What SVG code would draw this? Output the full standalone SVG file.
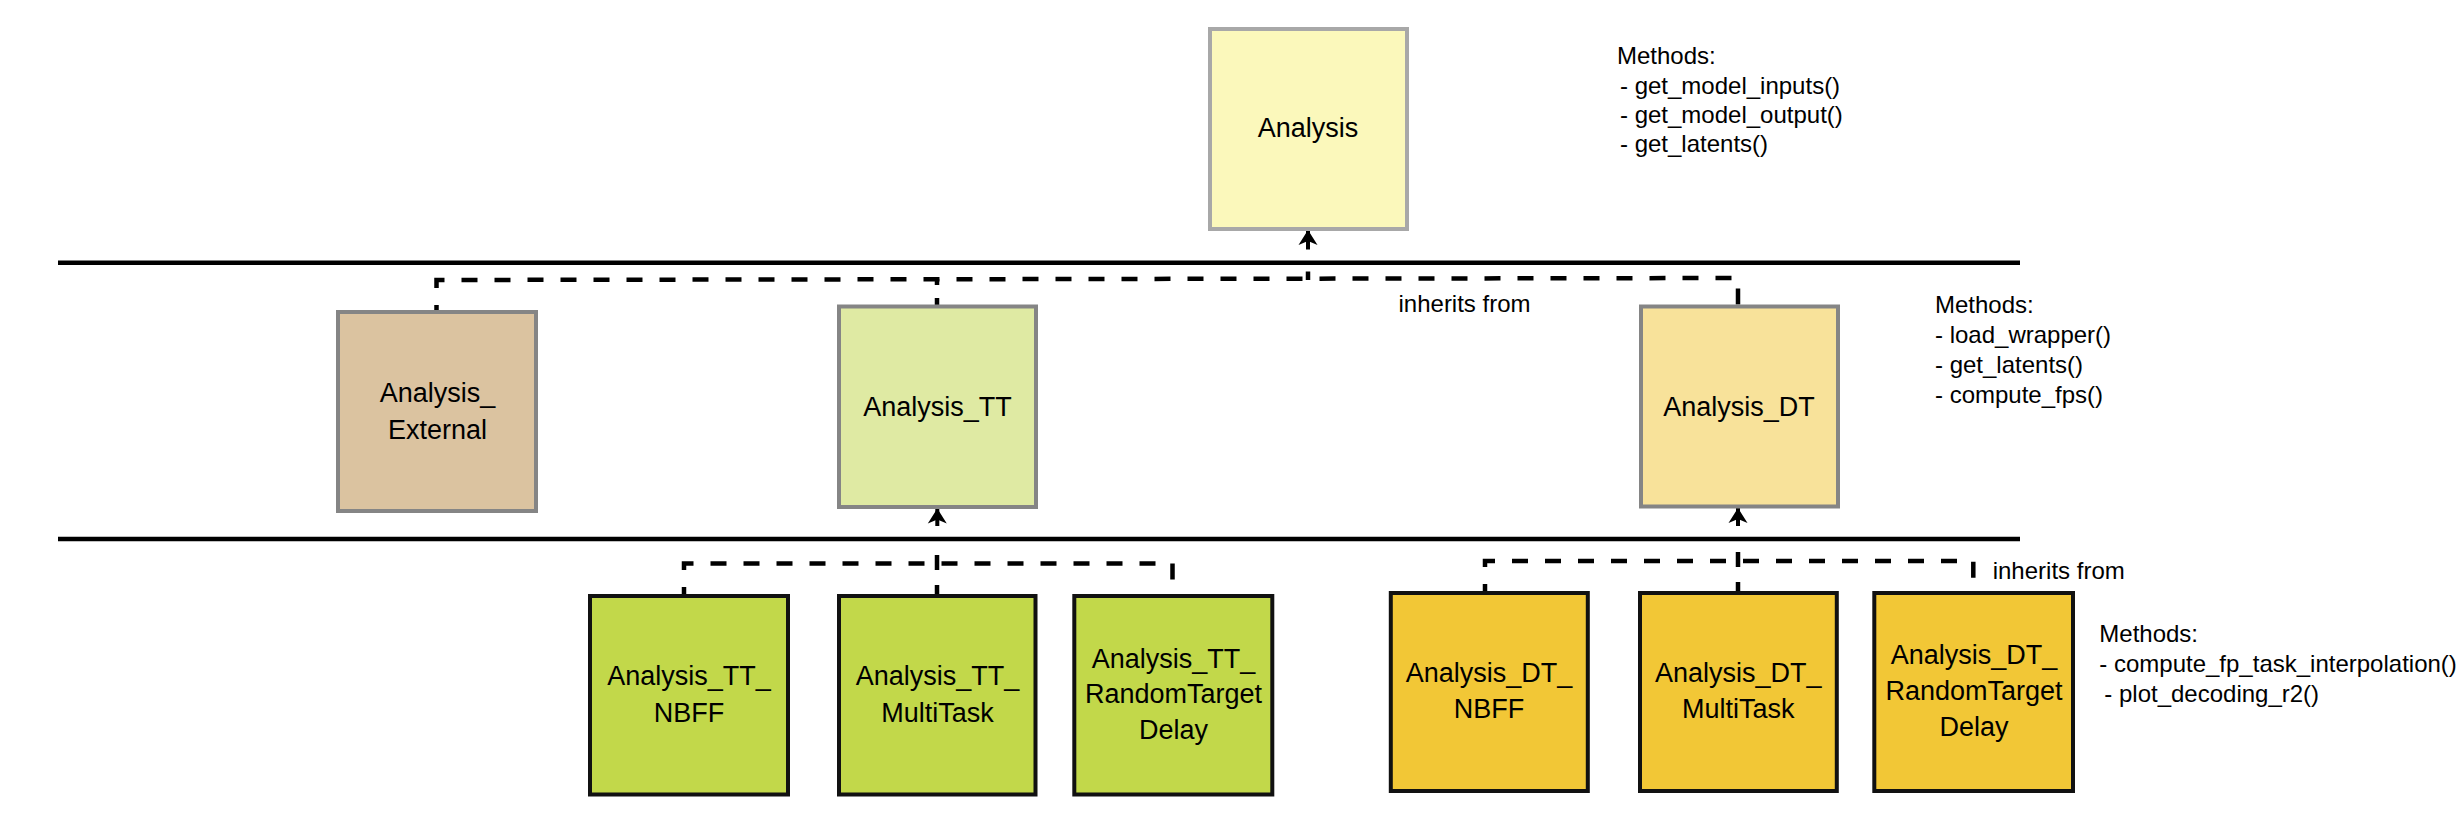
<svg xmlns="http://www.w3.org/2000/svg" width="2460" height="833" viewBox="0 0 2460 833">
<defs>
<marker id="arrow" markerUnits="userSpaceOnUse" markerWidth="15" markerHeight="20" viewBox="0 -10 15 20" refX="15" refY="0" orient="auto"><path d="M15,0 L0,-9.5 L4,0 L0,9.5 Z" fill="#000"/></marker>
<style>
text{font-family:"Liberation Sans",Arial,sans-serif;fill:#000}
.lbl{font-size:27px;text-anchor:middle}
.m{font-size:24px}
.sep{stroke:#000;stroke-width:4.5;fill:none}
.dash{stroke:#000;stroke-width:4.5;fill:none;stroke-dasharray:16 17}
.stem{stroke:#000;stroke-width:4;fill:none;marker-end:url(#arrow)}
.n0{stroke:#a8a8a8;stroke-width:4}
.n1{stroke:#858585;stroke-width:4}
.n2{stroke:#111;stroke-width:4}
</style>
</defs>
<rect width="2460" height="833" fill="#fff"/>
<g id="separators">
<line class="sep" x1="58" y1="262.7" x2="2020" y2="262.7"/>
<line class="sep" x1="58" y1="539" x2="2020" y2="539"/>
</g>
<g id="connectors">
<path class="dash" style="stroke-dashoffset:9.5" d="M436.5,311.5 V280 L1738,278 V306"/>
<path class="dash" style="stroke-dasharray:8 13" d="M937,306 V279"/>
<path class="sep" d="M1308,280 V271.5"/>
<path class="stem" d="M1308,249.5 V230"/>
<path class="dash" style="stroke-dashoffset:7" d="M684,596 V563.5 H1172.5 V596"/>
<path class="dash" style="stroke-dasharray:15 15" d="M937,600 V541"/>
<path class="stem" d="M937.3,526 V508.5"/>
<path class="dash" style="stroke-dashoffset:7" d="M1485,593 V561 H1973.3 V593"/>
<path class="dash" style="stroke-dasharray:15 15" d="M1738,597 V541"/>
<path class="stem" d="M1738,526 V508"/>
</g>
<g id="node-analysis">
<rect class="n0" x="1210" y="29" width="197" height="200" fill="#FBF8BB"/>
<text class="lbl" x="1308" y="137">Analysis</text>
</g>
<g id="node-analysis-external">
<rect class="n1" x="338" y="312" width="198" height="199" fill="#DBC3A0"/>
<text class="lbl" x="437.5" y="402">Analysis_</text>
<text class="lbl" x="437.5" y="439">External</text>
</g>
<g id="node-analysis-tt">
<rect class="n1" x="839" y="306.5" width="197" height="200.5" fill="#DFEAA3"/>
<text class="lbl" x="937.5" y="415.7">Analysis_TT</text>
</g>
<g id="node-analysis-dt">
<rect class="n1" x="1641" y="306.5" width="197" height="200" fill="#F8E29A"/>
<text class="lbl" x="1739" y="415.7">Analysis_DT</text>
</g>
<g id="node-tt-nbff">
<rect class="n2" x="590" y="596" width="198" height="198.5" fill="#C2D84A"/>
<text class="lbl" x="689" y="685">Analysis_TT_</text>
<text class="lbl" x="689" y="721.7">NBFF</text>
</g>
<g id="node-tt-multitask">
<rect class="n2" x="839" y="596" width="196.5" height="198.5" fill="#C2D84A"/>
<text class="lbl" x="937.5" y="685">Analysis_TT_</text>
<text class="lbl" x="937.5" y="721.7">MultiTask</text>
</g>
<g id="node-tt-randomtargetdelay">
<rect class="n2" x="1074.3" y="596" width="198" height="198.5" fill="#C2D84A"/>
<text class="lbl" x="1173.5" y="667.7">Analysis_TT_</text>
<text class="lbl" x="1173.5" y="703.3">RandomTarget</text>
<text class="lbl" x="1173.5" y="739.3">Delay</text>
</g>
<g id="node-dt-nbff">
<rect class="n2" x="1390.8" y="593" width="197" height="198" fill="#F2C736"/>
<text class="lbl" x="1489" y="682.3">Analysis_DT_</text>
<text class="lbl" x="1489" y="718.3">NBFF</text>
</g>
<g id="node-dt-multitask">
<rect class="n2" x="1640" y="593" width="196.8" height="198" fill="#F2C736"/>
<text class="lbl" x="1738.3" y="682.3">Analysis_DT_</text>
<text class="lbl" x="1738.3" y="718.3">MultiTask</text>
</g>
<g id="node-dt-randomtargetdelay">
<rect class="n2" x="1874.3" y="593" width="198.7" height="198" fill="#F2C736"/>
<text class="lbl" x="1974" y="664">Analysis_DT_</text>
<text class="lbl" x="1974" y="700">RandomTarget</text>
<text class="lbl" x="1974" y="736">Delay</text>
</g>
<g id="labels">
<text class="m" x="1617" y="64">Methods:</text>
<text class="m" x="1620" y="94">- get_model_inputs()</text>
<text class="m" x="1620" y="123">- get_model_output()</text>
<text class="m" x="1620" y="152">- get_latents()</text>
<text class="m" x="1398.5" y="311.7">inherits from</text>
<text class="m" x="1935" y="313.3">Methods:</text>
<text class="m" x="1935" y="343.3">- load_wrapper()</text>
<text class="m" x="1935" y="373.3">- get_latents()</text>
<text class="m" x="1935" y="402.7">- compute_fps()</text>
<text class="m" x="1992.7" y="579.3">inherits from</text>
<text class="m" x="2099.3" y="641.7">Methods:</text>
<text class="m" x="2099.3" y="671.7">- compute_fp_task_interpolation()</text>
<text class="m" x="2104.3" y="701.7">- plot_decoding_r2()</text>
</g>
</svg>
